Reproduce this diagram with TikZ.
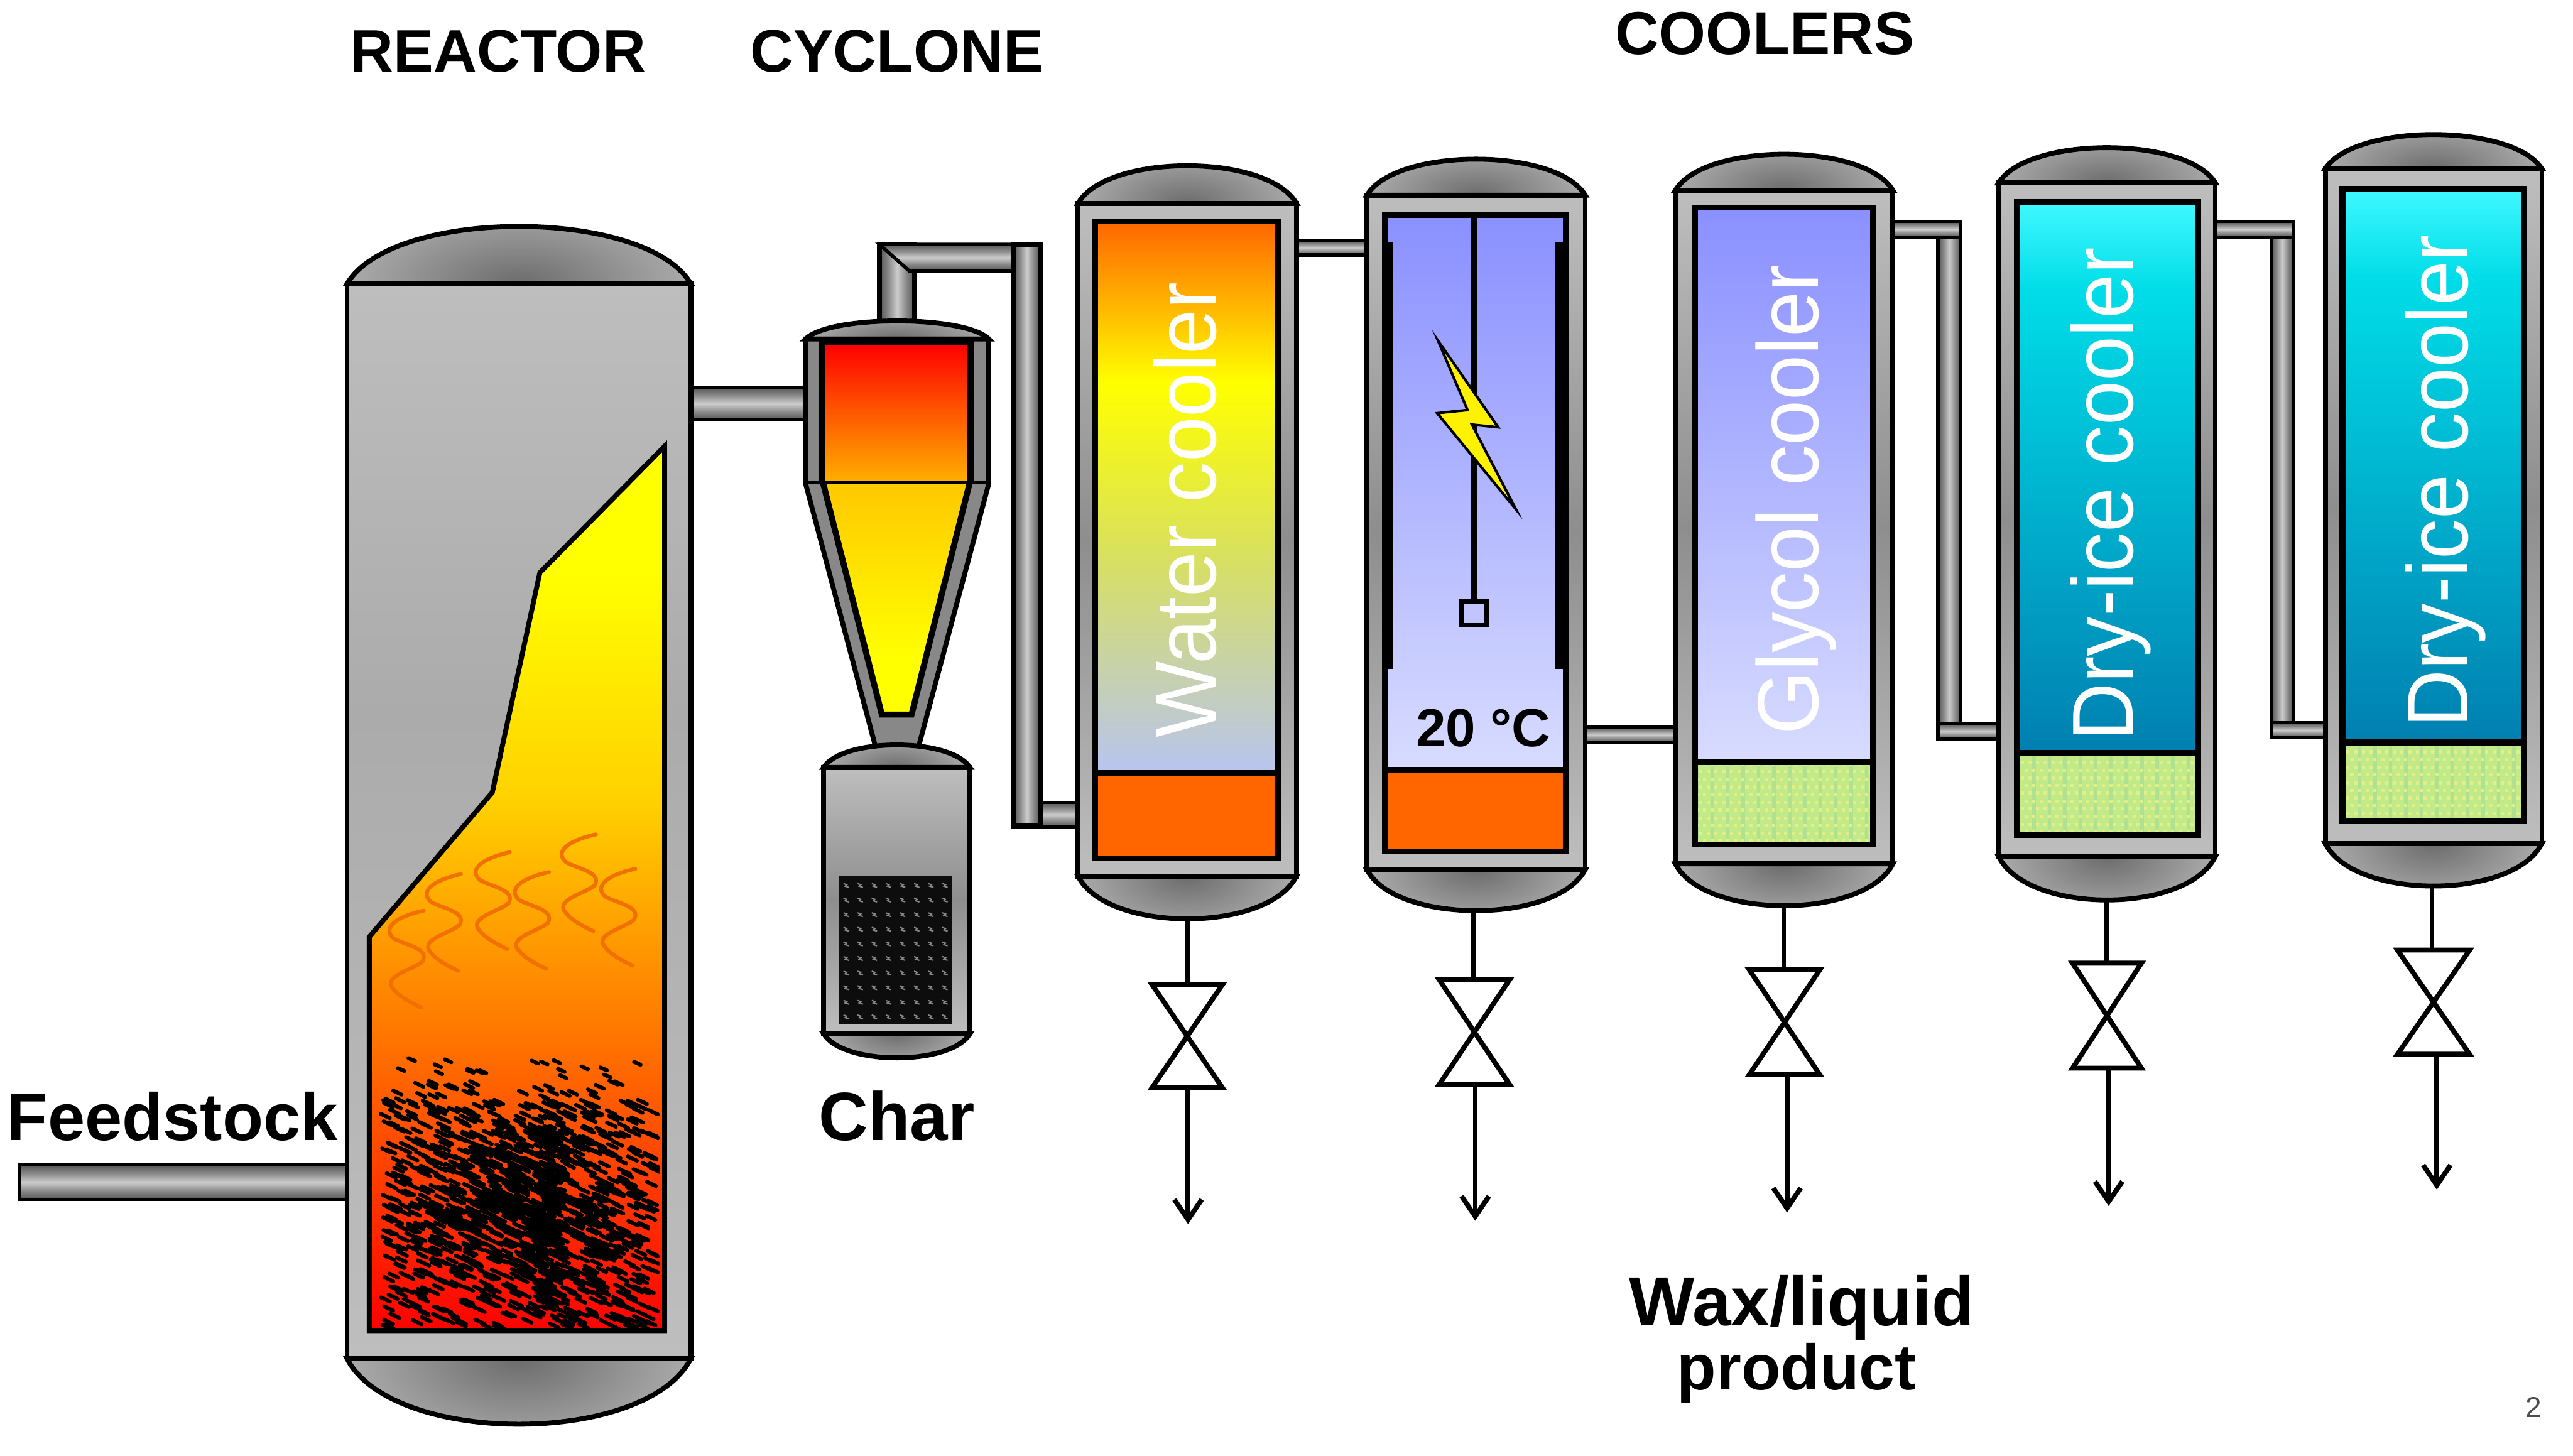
\documentclass[tikz,border=0pt]{standalone}
\usepackage{fontspec}
\usepackage{graphicx}
\setmainfont{Liberation Sans}
\usetikzlibrary{arrows.meta}
\definecolor{cOr}{HTML}{FF6600}
\definecolor{cGold}{HTML}{FFD000}
\definecolor{cMid}{HTML}{FF7000}
\definecolor{cAmber}{HTML}{FFB000}
\definecolor{cCone}{HTML}{FFC800}
\definecolor{cWatMid}{HTML}{D8E060}
\definecolor{cWatLow}{HTML}{B8C4F0}
\definecolor{cBlueT}{HTML}{8A90FF}
\definecolor{cBlueB}{HTML}{D8DCFF}
\definecolor{cCy}{HTML}{40F8FF}
\definecolor{cCyM}{HTML}{00DDE8}
\definecolor{cCyB}{HTML}{007FB0}
\definecolor{gA}{HTML}{BEBEBE}
\definecolor{gB}{HTML}{ABABAB}
\definecolor{gC}{HTML}{8E8E8E}
\definecolor{gD}{HTML}{555555}
\definecolor{gE}{HTML}{CCCCCC}
\definecolor{gF}{HTML}{888888}
\definecolor{domeDark}{HTML}{6C6C6C}
\definecolor{domeLight}{HTML}{BABABA}
\definecolor{grBase}{HTML}{C2EA88}
\definecolor{grDot}{HTML}{E0F086}
\definecolor{grLine}{HTML}{AEE292}
\definecolor{steam}{HTML}{F07000}
\pgfdeclareverticalshading{flameS}{100bp}{color(0bp)=(red); color(25bp)=(red); color(40.9bp)=(cMid); color(54.8bp)=(cGold); color(67.8bp)=(yellow); color(100bp)=(yellow)}
\pgfdeclareverticalshading{cylS}{100bp}{color(0bp)=(cAmber); color(25bp)=(cAmber); color(75bp)=(red); color(100bp)=(red)}
\pgfdeclareverticalshading{coneS}{100bp}{color(0bp)=(yellow); color(37.5bp)=(yellow); color(75bp)=(cCone); color(100bp)=(cCone)}
\pgfdeclareverticalshading{waterS}{100bp}{color(0bp)=(cWatLow); color(25bp)=(cWatLow); color(44.6bp)=(cWatMid); color(60.4bp)=(yellow); color(75bp)=(cOr); color(100bp)=(cOr)}
\pgfdeclareverticalshading{blueS}{100bp}{color(0bp)=(cBlueB); color(25bp)=(cBlueB); color(75bp)=(cBlueT); color(100bp)=(cBlueT)}
\pgfdeclareverticalshading{iceS}{100bp}{color(0bp)=(cCyB); color(25bp)=(cCyB); color(67bp)=(cCyM); color(75bp)=(cCy); color(100bp)=(cCy)}
\pgfdeclareverticalshading{shellS}{100bp}{color(0bp)=(gA); color(25bp)=(gA); color(50bp)=(gC); color(75bp)=(gA); color(100bp)=(gA)}
\pgfdeclareverticalshading{reactS}{100bp}{color(0bp)=(gA); color(25bp)=(gA); color(55bp)=(gB); color(75bp)=(gA); color(100bp)=(gA)}
\pgfdeclareverticalshading{hpipeS}{100bp}{color(0bp)=(gD); color(25bp)=(gD); color(37bp)=(gF); color(50bp)=(gE); color(63bp)=(gF); color(75bp)=(gD); color(100bp)=(gD)}
\pgfdeclarehorizontalshading{vpipeS}{100bp}{color(0bp)=(gD); color(25bp)=(gD); color(37bp)=(gF); color(50bp)=(gE); color(63bp)=(gF); color(75bp)=(gD); color(100bp)=(gD)}
\tikzset{
  ln/.style={line width=1.7pt,line join=miter},
  thinln/.style={line width=1.2pt},
  hpipe/.style={shading=hpipeS,draw=black,thinln},
  vpipe/.style={shading=vpipeS,draw=black,thinln},
  head/.style={font=\fontsize{20.8}{24}\selectfont\bfseries,anchor=base,inner sep=0pt},
  big/.style={font=\fontsize{23.7}{27}\selectfont\bfseries,anchor=base,inner sep=0pt},
  vert/.style={font=\fontsize{30}{34}\selectfont,text=white,rotate=90,anchor=base west,inner sep=0pt},
  squig/.style={draw=steam,line width=1.35pt,line cap=round},
  blob/.style={line width=1.35pt,line cap=round,black},
}
\newcommand\mydome[4]{%
  \pgfmathsetmacro\dW{#2-#1}\pgfmathsetmacro\dCx{(#1+#2)/2}%
  \pgfmathsetmacro\dCy{#3+1.333*(#4-#3)}\pgfmathsetmacro\dH{abs(#4-#3)}%
  \pgfmathsetmacro\dA{#1+.13*\dW}\pgfmathsetmacro\dB{#2-.13*\dW}%
  \begin{scope}
    \clip (#1,#3) .. controls (\dA,\dCy) and (\dB,\dCy) .. (#2,#3) -- cycle;
    \shade[inner color=domeDark,outer color=domeLight] (\dCx,#3) ellipse ({.62*\dW} and {1.7*\dH});
  \end{scope}
  \draw[ln] (#1,#3) .. controls (\dA,\dCy) and (\dB,\dCy) .. (#2,#3) -- cycle;
}
\newcommand\myvessel[7]{%
  \mydome{#1}{#2}{#4}{#3}\mydome{#1}{#2}{#5}{#6}%
  \path[shading=#7,draw=black,ln] (#1,#4) rectangle (#2,#5);
}
\newcommand\mychamber[6]{%
  \draw[ln,line width=2pt] (#1,#3) rectangle (#2,#5);
  \shade[shading=#6] (#1,#3) rectangle (#2,#4);
  \draw[ln,line width=1.4pt] (#1,#4) -- (#2,#4);
  \draw[ln,line width=2pt] (#1,#3) rectangle (#2,#5);
}
\newcommand\myorange[4]{\fill[cOr] (#1,#3) rectangle (#2,#4);\draw[ln,line width=2pt] (#1,#3) rectangle (#2,#4);}
\newcommand\mygreen[4]{%
  \begin{scope}
    \clip (#1,#3) rectangle (#2,#4);
    \fill[grBase] (#1,#3) rectangle (#2,#4);
    \foreach \gx in {0,...,12}{\fill[grLine] ({#1+\gx*9.4},#3) rectangle ({#1+\gx*9.4+2.2},#4);}
    \foreach \gx in {0,...,24}\foreach \gy in {0,...,11}{%
      \pgfmathsetmacro\px{#1+(\gx+.5*mod(\gy,2))*4.7}\pgfmathsetmacro\py{#3+\gy*4.7}%
      \fill[grDot] (\px,\py) rectangle ++(2,2);}
  \end{scope}
  \draw[ln,line width=2pt] (#1,#3) rectangle (#2,#4);
}
\newcommand\mydrain[9]{%
  \coordinate (#1s) at (#2,#3);\coordinate (#1t) at (#2,#4);
  \coordinate (#1b) at (#8,#5);\coordinate (#1e) at (#8,#9);
  \draw[ln] (#1s) -- (#1t);
  \draw[ln,fill=white] (#6,#4) -- (#7,#4) -- (#6,#5) -- (#7,#5) -- cycle;
  \draw[ln,-{Straight Barb[length=7pt,width=9.5pt]}] (#1b) -- (#1e);
}
\newcommand\mysquig[2]{%
  \draw[squig,shift={(#1,#2)}] (258.2,555) .. controls (240,559) and (233,566) .. (240,572)
     .. controls (247,576) and (262,578) .. (257.4,586)
     .. controls (252,591) and (232,595) .. (240,603) .. controls (243,607) and (250,611) .. (256.6,614);
}
\begin{document}
\begin{tikzpicture}[x=0.02cm,y=-0.02cm]
\useasboundingbox (0,0) rectangle (1568,887.35);
% ---------- pipes
\path[hpipe] (12,710) rectangle (212,731);
\path[hpipe] (421,236) rectangle (491,256);
\path[vpipe,ln] (536,149) rectangle (557.5,197);
\path[hpipe] (536,149) -- (625,149) -- (625,165) -- (554,165) -- cycle;
\path[hpipe] (630,489) rectangle (659,504);
\path[vpipe,ln] (617.5,149) rectangle (634,503.5);
\path[hpipe] (790,146.5) rectangle (834,155.5);
\path[hpipe] (965,443) rectangle (1022,452.5);
\path[vpipe] (1181,142) rectangle (1195,450);
\path[hpipe] (1153,135) rectangle (1195,144.5);
\path[hpipe] (1181,441) rectangle (1219,450.5);
\path[vpipe] (1384,142) rectangle (1397.5,449);
\path[hpipe] (1350,135) rectangle (1397.5,144.5);
\path[hpipe] (1384,440.5) rectangle (1417,449.5);
% ---------- reactor
\myvessel{211.5}{421}{138}{173}{828}{868}{reactS}
\path[shading=flameS,draw=black,ln] (225,571) -- (300,483) -- (329,349) -- (405,272) -- (405,811) -- (225,811) -- cycle;
\foreach \sx/\sy in {0/0,22.7/-22.3,52.5/-35.6,76.4/-23.5,105/-46.5,129/-25.5}{\mysquig{\sx}{\sy}}
\begin{scope}
\clip (228,640) rectangle (402,809);
\pgfmathsetseed{11}
\foreach \i in {1,...,18}{%
  \pgfmathsetmacro\bx{236+160*rnd}\pgfmathsetmacro\by{644+12*rnd}%
  \draw[blob] (\bx,\by) -- ++(4,1.8);}
\foreach \i in {1,...,30}{%
  \pgfmathsetmacro\bx{234+160*rnd}\pgfmathsetmacro\by{658+14*rnd}%
  \draw[blob] (\bx,\by) -- ++(5,2.4);}
\foreach \i in {1,...,800}{%
  \pgfmathsetmacro\bx{232+165*rnd}\pgfmathsetmacro\by{670+138*rnd}%
  \draw[blob] (\bx,\by) -- ++(5.5,2.6);}
\foreach \i in {1,...,420}{%
  \pgfmathsetmacro\bx{315+75*(rnd+rnd-1)}\pgfmathsetmacro\by{738+66*(rnd+rnd-1)}%
  \draw[blob] (\bx,\by) -- ++(7,3.2);}
\foreach \i in {1,...,170}{%
  \pgfmathsetmacro\bx{326+17*rnd}\pgfmathsetmacro\by{680+122*rnd}%
  \draw[blob] (\bx,\by) -- ++(3.5,1.5);}
\end{scope}
\draw[ln] (225,571) -- (225,811) -- (405,811) -- (405,272);
% ---------- cyclone
\mydome{491}{602.5}{206.6}{195.6}
\path[fill=gF,draw=black,ln] (491,206.6) -- (491,295) -- (533.5,455) -- (559.8,455) -- (602.5,295) -- (602.5,206.6) -- cycle;
\shade[shading=coneS] (503.5,294) -- (537.4,435) -- (555.5,435) -- (589.7,294) -- cycle;
\draw[ln,line width=2.1pt] (501.5,294) -- (537.4,435.5) -- (555.5,435.5) -- (591,294);
\shade[shading=cylS] (501,209.5) rectangle (591.5,294);
\draw[ln,line width=2.1pt] (501,294) -- (501,208.5) -- (591.5,208.5) -- (591.5,294);
\draw[ln,line width=1.4pt] (491,294) -- (602.5,294);
% ---------- char pot
\myvessel{502}{591}{454}{467.7}{630}{644.7}{shellS}
\fill[black!95] (511,534) rectangle (580,624);
\foreach \ci in {0,...,7}\foreach \cj in {0,...,9}{%
  \pgfmathsetmacro\tx{514+\ci*8.6}\pgfmathsetmacro\ty{538.5+\cj*8.9}%
  \draw[gF,line width=.45pt] (\tx,\ty) -- ++(2,.7) -- ++(-1,.9) -- ++(2.3,.7);}
% ---------- coolers
\myvessel{657}{790}{101}{124}{534}{560}{shellS}
\mychamber{667.5}{779}{135}{471}{523}{waterS}
\myorange{667.5}{779}{471}{523}
\myvessel{833}{966}{97}{119}{530}{555}{shellS}
\mychamber{844}{954}{131}{469}{519}{blueS}
\myorange{844}{954}{469}{519}
\fill[black] (842,147.5) rectangle (849,407.6);
\fill[black] (948,147.5) rectangle (956,407.6);
\draw[ln,line width=2.2pt] (898,131) -- (898,366);
\draw[ln,fill=cBlueB!70!cBlueT,line width=1.5pt] (890.5,366.5) rectangle (906,381);
\draw[fill=yellow,draw=black,line width=.9pt,line join=miter] (876.4,207.8) -- (913,260.4) -- (897,258.8) -- (923.8,310.4) -- (875.8,251.8) -- (894.3,249.9) -- cycle;
\myvessel{1021}{1153.5}{94}{116}{526.5}{552}{shellS}
\mychamber{1033}{1141.5}{126.5}{464.6}{514.7}{blueS}
\mygreen{1033}{1141.5}{464.6}{514.7}
\myvessel{1218}{1350}{90}{111.5}{522}{548.5}{shellS}
\mychamber{1229}{1339.5}{123}{459}{509}{iceS}
\mygreen{1229}{1339.5}{459}{509}
\myvessel{1417}{1549}{82}{103}{514}{540}{shellS}
\mychamber{1427.5}{1538}{115}{452.5}{500.6}{iceS}
\mygreen{1427.5}{1538}{452.5}{500.6}
% ---------- drains
\mydrain{da}{723.5}{560}{600}{663}{702}{745}{724}{746}
\mydrain{db}{898}{555}{597}{661}{877}{920}{899}{744}
\mydrain{dc}{1087}{552}{591}{655}{1066}{1109}{1089}{739}
\mydrain{dd}{1284}{548.5}{587}{651}{1263}{1305}{1285}{735}
\mydrain{de}{1482}{540}{579}{642.5}{1461}{1505}{1485}{725}
% ---------- labels
\node[head] (reactor) at (303.5,44) {REACTOR};
\node[head] (cyclone) at (546.5,44) {CYCLONE};
\node[head,font=\fontsize{21}{24}\selectfont\bfseries] (coolers) at (1075.5,33) {COOLERS};
\node[big,font=\fontsize{23.2}{26}\selectfont\bfseries] (feed) at (105,695) {Feedstock};
\node[big] (char) at (546.5,695) {Char};
\node[big,font=\fontsize{24.1}{27}\selectfont\bfseries] (wax) at (1098,808) {Wax/liquid};
\node[big,font=\fontsize{22.3}{27}\selectfont\bfseries] (product) at (1095,847) {product};
\node[head,font=\fontsize{18.6}{22}\selectfont\bfseries] (temp) at (904,455) {20 °C};
\node[vert] (water) at (741,450) {\scalebox{.935}[1]{Water cooler}};
\node[vert] (glycol) at (1108,448) {\scalebox{.94}[1]{Glycol cooler}};
\node[vert] (icea) at (1300,452) {\scalebox{.925}[1]{Dry-ice cooler}};
\node[vert] (iceb) at (1504,444) {\scalebox{.925}[1]{Dry-ice cooler}};
\node[anchor=base,inner sep=0pt,font=\fontsize{10}{12}\selectfont,text=black!70] (page) at (1544,864) {2};
\end{tikzpicture}
\end{document}
